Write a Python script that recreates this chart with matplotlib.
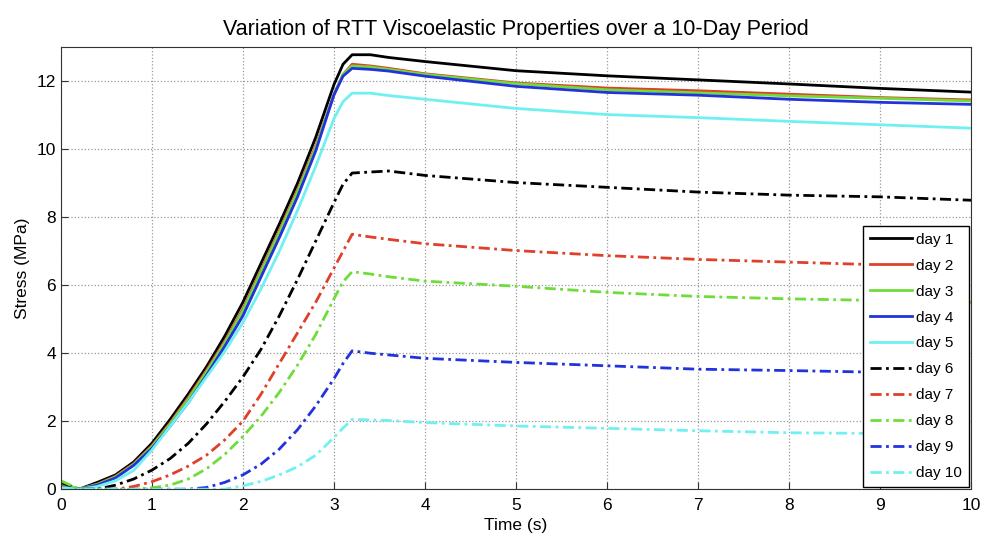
import numpy as np
import matplotlib
matplotlib.use('Agg')
import matplotlib.pyplot as plt

# time samples (s) shared by all curves
time_s = [0.0, 0.2, 0.4, 0.6, 0.8, 1.0, 1.2, 1.4, 1.6, 1.8, 2.0, 2.2, 2.4, 2.6, 2.8,
          3.0, 3.1, 3.2, 3.4, 3.6, 4.0, 5.0, 6.0, 7.0, 8.0, 9.0, 10.0]

# stress (MPa), one list per day
day1 = [0.05, 0.0, 0.2, 0.42, 0.8, 1.35, 2.05, 2.8, 3.6, 4.5, 5.5, 6.65, 7.8, 9.0, 10.35,
        11.9, 12.5, 12.78, 12.78, 12.7, 12.58, 12.31, 12.16, 12.04, 11.92, 11.79, 11.68]
day2 = [0.1, 0.0, 0.15, 0.38, 0.75, 1.28, 1.95, 2.7, 3.5, 4.35, 5.3, 6.45, 7.6, 8.8, 10.1,
        11.6, 12.2, 12.5, 12.45, 12.38, 12.22, 11.95, 11.8, 11.72, 11.62, 11.52, 11.45]
day3 = [0.2, 0.0, 0.14, 0.36, 0.73, 1.25, 1.92, 2.65, 3.45, 4.3, 5.25, 6.4, 7.55, 8.75, 10.05,
        11.6, 12.2, 12.45, 12.42, 12.35, 12.2, 11.93, 11.75, 11.66, 11.57, 11.5, 11.42]
day4 = [0.05, 0.0, 0.12, 0.33, 0.7, 1.2, 1.85, 2.55, 3.35, 4.2, 5.1, 6.25, 7.4, 8.6, 9.95,
        11.6, 12.15, 12.38, 12.35, 12.3, 12.15, 11.85, 11.67, 11.59, 11.47, 11.38, 11.32]
day5 = [0.05, 0.0, 0.08, 0.25, 0.55, 1.15, 1.85, 2.55, 3.3, 4.05, 4.9, 5.9, 7.0, 8.2, 9.5,
        10.9, 11.4, 11.65, 11.65, 11.58, 11.47, 11.2, 11.02, 10.93, 10.82, 10.72, 10.62]
day6 = [0.2, 0.0, 0.0, 0.12, 0.3, 0.56, 0.9, 1.35, 1.92, 2.58, 3.3, 4.12, 5.1, 6.17, 7.3,
        8.43, 8.97, 9.3, 9.33, 9.36, 9.23, 9.02, 8.88, 8.74, 8.65, 8.6, 8.5]
day7 = [0.05, 0.0, 0.0, 0.0, 0.08, 0.22, 0.42, 0.68, 1.0, 1.45, 2.0, 2.8, 3.7, 4.6, 5.5,
        6.5, 7.0, 7.5, 7.42, 7.35, 7.22, 7.02, 6.87, 6.76, 6.68, 6.6, 6.55]
day8 = [0.25, 0.0, 0.0, 0.0, 0.0, 0.04, 0.12, 0.3, 0.6, 1.02, 1.55, 2.15, 2.85, 3.65, 4.55,
        5.6, 6.1, 6.4, 6.33, 6.25, 6.12, 5.97, 5.79, 5.67, 5.6, 5.55, 5.5]
day9 = [0.05, 0.0, 0.0, 0.0, 0.0, 0.0, 0.0, 0.0, 0.05, 0.2, 0.42, 0.74, 1.18, 1.75, 2.45,
        3.25, 3.7, 4.07, 4.0, 3.95, 3.85, 3.73, 3.63, 3.53, 3.49, 3.44, 3.4]
day10 = [0.05, 0.0, 0.0, 0.0, 0.0, 0.0, 0.0, 0.0, 0.0, 0.0, 0.1, 0.23, 0.42, 0.66, 1.0,
         1.52, 1.8, 2.05, 2.04, 2.02, 1.96, 1.86, 1.79, 1.72, 1.66, 1.64, 1.6]

labels = ['day 1', 'day 2', 'day 3', 'day 4', 'day 5',
          'day 6', 'day 7', 'day 8', 'day 9', 'day 10']
series = [day1, day2, day3, day4, day5, day6, day7, day8, day9, day10]
colors = ['#000000', '#e0402a', '#6fdc3a', '#2233dd', '#70f0f0'] * 2

plt.rcParams['font.family'] = ['Liberation Sans', 'DejaVu Sans']

fig = plt.figure(figsize=(9.81, 5.37), dpi=100)
ax = fig.add_axes([0.062, 0.089, 0.928, 0.823])

dashdot = (0, (4, 1.6, 1, 1.6))
for i, (y, lab) in enumerate(zip(series, labels)):
    ls = '-' if i < 5 else dashdot
    ax.plot(time_s, y, color=colors[i], linestyle=ls, linewidth=2.0, label=lab)

ax.set_xlim(0, 10)
ax.set_ylim(0, 13)
ax.set_xticks(range(0, 11))
ax.set_yticks(range(0, 13, 2))
ax.grid(True, linestyle=':', color='#999999', linewidth=0.9)
ax.tick_params(direction='in', labelsize=12.5, length=5, color='#333333')
ax.tick_params(axis='x', pad=6)
for sp in ax.spines.values():
    sp.set_color('#333333')

ax.set_xlabel('Time (s)', fontsize=12.5, labelpad=4)
ax.set_ylabel('Stress (MPa)', fontsize=12.5, labelpad=5)
ax.set_title('Variation of RTT Viscoelastic Properties over a 10-Day Period',
             fontsize=15.5, pad=9)

leg = ax.legend(loc='lower right', fontsize=11, fancybox=False, framealpha=1,
                edgecolor='black', borderaxespad=0.15, labelspacing=0.78,
                handlelength=2.7, handletextpad=0.3, borderpad=0.45)
leg.get_frame().set_linewidth(1.0)

fig.savefig('out.png', dpi=100)
